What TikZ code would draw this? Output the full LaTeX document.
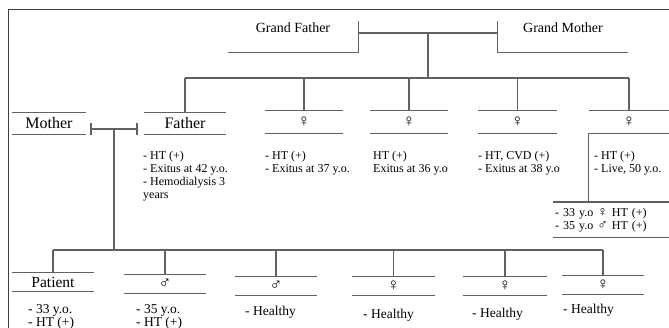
\documentclass[tikz,border=0pt]{standalone}
\usepackage{fontspec}
\setmainfont{Liberation Serif}
\begin{document}
\begin{tikzpicture}[x=1pt,y=-1pt,
    line/.style={draw=black!62,line width=1.2pt},
    frame/.style={draw=black!75,line width=0.9pt},
    elder/.style={minimum width=130pt,inner sep=0pt,text height=12pt,text depth=19pt,
        font=\fontsize{14}{16}\selectfont},
    person/.style={minimum width=#1,minimum height=21pt,inner sep=0pt,
        font=\fontsize{16}{18}\selectfont},
    person/.default=82pt,
    sym/.style={font=\fontsize{17}{18}\selectfont},
    info/.style={anchor=north west,align=left,inner sep=0pt,
        font=\fontsize{12}{13}\selectfont},
    note/.style={anchor=north west,align=left,inner sep=0pt,
        font=\fontsize{13.5}{12}\selectfont}]
    \useasboundingbox (0,0) rectangle (669,328);
    \draw [frame] (8,335) -- (8,9) -- (675,9);
    % grandparents
    \node [elder,anchor=base] (gf) at (293,33) {Grand Father};
    \node [elder,anchor=base] (gm) at (563,33) {Grand Mother};
    \draw [line] (gf.south west) -- (gf.south east) -- (gf.north east);
    \draw [line] (gm.south east) -- (gm.south west) -- (gm.north west);
    \draw [line] (gf.base east) -- coordinate (gp) (gm.base west);
    % second generation
    \node [person=74pt] (mother) at (49,123.5) {Mother};
    \node [person] (father) at (185,123.5) {Father};
    \node [person=78pt,sym,minimum height=22pt] (f1) at (304,122) {♀};
    \node [person=78pt,sym,minimum height=22pt] (f2) at (409,122) {♀};
    \node [person=79pt,sym,minimum height=22pt] (f3) at (517.5,122) {♀};
    \node [person=80pt,sym,minimum height=22pt] (f4) at (629,122) {♀};
    \foreach \n in {mother,father,f1,f2,f3,f4}
        \draw [line] (\n.north west) -- (\n.north east) (\n.south west) -- (\n.south east);
    \draw [line] (gp) -- (gp |- 0,78);
    \draw [line] (father.north |- 0,78) -- (f4.north |- 0,78);
    \foreach \n in {father,f1,f2,f3,f4}
        \draw [line] (\n.north |- 0,78) -- (\n.north);
    % parents of the patient
    \coordinate (mm) at (91,129);
    \coordinate (mf) at (137,129);
    \draw [line] (mm) -- coordinate (par) (mf);
    \draw [line] ([yshift=6pt]mm) -- ([yshift=-6pt]mm);
    \draw [line] ([yshift=6pt]mf) -- ([yshift=-6pt]mf);
    \node [info] (fatherinfo) at (143,151) {- HT (+)\\- Exitus at 42 y.o.\\- Hemodialysis 3\\years};
    \node [info] (f1info) at (265,151) {- HT (+)\\- Exitus at 37 y.o.};
    \node [info] (f2info) at (373,151) {HT (+)\\Exitus at 36 y.o};
    \node [info] (f3info) at (478,151) {- HT, CVD (+)\\- Exitus at 38 y.o};
    \node [info] (f4info) at (594,151) {- HT (+)\\- Live, 50 y.o.};
    \node [info,anchor=north west,text width=112pt,minimum height=35pt,inner xsep=2pt]
        (f4kids) at (553,202) {- 33 y.o {\fontsize{14}{12}\selectfont ♀} HT (+)\\- 35 y.o {\fontsize{14}{12}\selectfont ♂} HT (+)};
    \draw [line] (f4kids.north west) -- (f4kids.north east) (f4kids.south west) -- (f4kids.south east);
    \draw [line] (f4.south west) -- (f4.south west |- f4kids.north);
    % third generation
    \node [person,minimum height=18pt,font=\fontsize{15.5}{17}\selectfont] (patient) at (53,282) {Patient};
    \node [person,sym,minimum height=18pt] (b1) at (165,284) {♂};
    \node [person,sym,minimum height=18pt] (b2) at (276,286) {♂};
    \node [person=83pt,sym,minimum height=18pt] (s1) at (393.5,286) {♀};
    \node [person=84pt,sym,minimum height=18pt] (s2) at (505,286) {♀};
    \node [person,sym,minimum height=18pt] (s3) at (603,285) {♀};
    \foreach \n in {patient,b1,b2,s1,s2,s3}
        \draw [line] (\n.north west) -- (\n.north east) (\n.south west) -- (\n.south east);
    \draw [line] (par) -- (par |- 0,250);
    \draw [line] (patient.north |- 0,250) -- (s3.north |- 0,250);
    \foreach \n in {patient,b1,b2,s1,s2,s3}
        \draw [line] (\n.north |- 0,250) -- (\n.north);
    \node [note] (patientinfo) at (28,304) {- 33 y.o.\\- HT (+)};
    \node [note] (b1info) at (136,304) {- 35 y.o.\\- HT (+)};
    \node [note] (b2info) at (245,306) {- Healthy};
    \node [note] (s1info) at (363,309) {- Healthy};
    \node [note] (s2info) at (472,308) {- Healthy};
    \node [note] (s3info) at (563,304) {- Healthy};
\end{tikzpicture}
\end{document}
